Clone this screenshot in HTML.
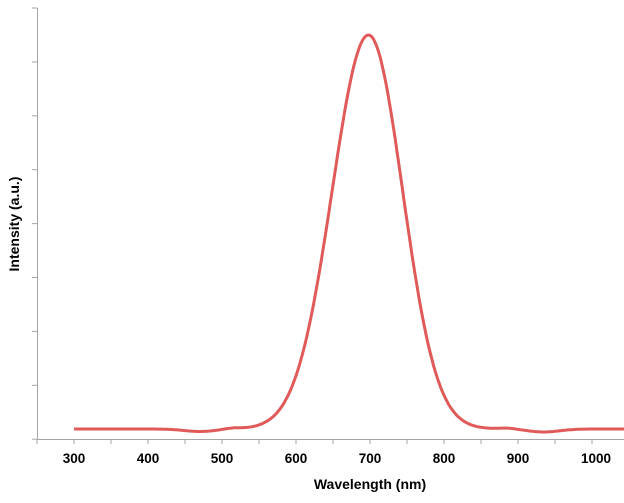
<!DOCTYPE html>
<html><head><style>
body{margin:0;background:#fff;width:624px;height:498px;overflow:hidden;font-family:"Liberation Sans",Arial,sans-serif}
</style></head><body>
<svg width="624" height="498" xmlns="http://www.w3.org/2000/svg">
<g stroke="#a6a6a6" stroke-width="1">
<line x1="37.5" y1="8" x2="37.5" y2="439"/>
<line x1="37" y1="439.5" x2="624" y2="439.5"/>
<g id="yt"></g><g id="xt"></g>
</g>
<path id="c" fill="none" stroke="#e05a5a" stroke-width="3"/>
<g font-weight="bold" font-size="13.5" fill="#000" text-anchor="middle">
<text x="74" y="463">300</text><text x="148" y="463">400</text><text x="222" y="463">500</text>
<text x="296" y="463">600</text><text x="370" y="463">700</text><text x="444" y="463">800</text>
<text x="518" y="463">900</text><text x="596" y="463">1000</text>
<text x="370" y="489" font-size="14">Wavelength (nm)</text>
<text transform="translate(19,224) rotate(-90)" font-size="14">Intensity (a.u.)</text>
</g>
</svg>
<script>
var ns="http://www.w3.org/2000/svg";
var yt=document.getElementById('yt');
for(var i=0;i<9;i++){var y=8+i*53.9;var l=document.createElementNS(ns,'line');l.setAttribute('x1',32);l.setAttribute('x2',37);l.setAttribute('y1',y);l.setAttribute('y2',y);yt.appendChild(l);}
var xt=document.getElementById('xt');
for(var w=250;w<=1050;w+=50){var x=37+(w-250)*0.74;var l=document.createElementNS(ns,'line');l.setAttribute('x1',x);l.setAttribute('x2',x);l.setAttribute('y1',439);l.setAttribute('y2',444);xt.appendChild(l);}
function base(w){var b=429;
 b+=2.5*Math.exp(-Math.pow((w-470)/30,2));b-=1*Math.exp(-Math.pow((w-515)/15,2));
 b+=3*Math.exp(-Math.pow((w-935)/30,2));b-=1*Math.exp(-Math.pow((w-885)/15,2));return b;}
var d='';
for(var w=300;w<=1050;w+=2){var x=37+(w-250)*0.74;var s=w<698?49:46;
 var y=base(w)-394*Math.exp(-Math.pow(w-698,2)/(2*s*s));
 d+=(w==300?'M':'L')+x.toFixed(1)+' '+y.toFixed(1);}
document.getElementById('c').setAttribute('d',d);
</script>
</body></html>
